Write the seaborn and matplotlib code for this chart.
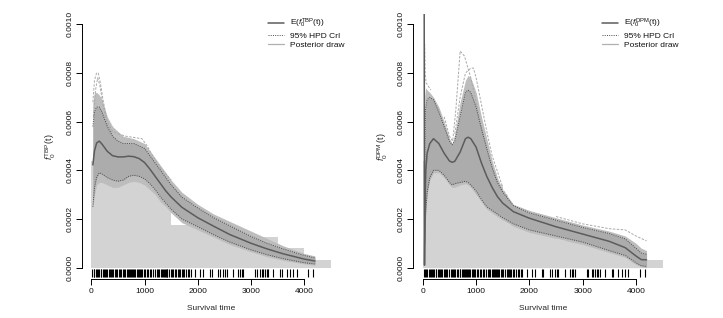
'''Baseline density estimates: TBP vs DPM'''

import matplotlib
matplotlib.use("Agg")
import matplotlib.pyplot as plt
import seaborn as sns
from matplotlib.lines import Line2D

# histogram of survival times (same data in both panels)
hist_edges = [0, 500, 1000, 1500, 2000, 2500, 3000, 3500, 4000, 4500]
hist_heights = [0.00044, 0.00036, 0.00034, 0.000175, 0.00016, 0.00011, 0.000125, 0.00008, 0.00003]

# observed survival times (rug)
rug_times = [20, 45, 60, 85, 110, 130, 150, 175, 190, 215, 240, 255, 280, 300, 330,
             350, 365, 390, 410, 440, 460, 485, 520, 545, 560, 590, 610, 640, 665,
             690, 705, 730, 750, 770, 790, 810, 830, 850, 875, 890, 915, 940, 960,
             985, 1010, 1040, 1065, 1100, 1130, 1150, 1190, 1230, 1250, 1270, 1300,
             1320, 1340, 1360, 1380, 1400, 1415, 1430, 1460, 1490, 1510, 1540, 1580,
             1600, 1620, 1640, 1660, 1700, 1720, 1745, 1780, 1810, 1840, 1870, 1950,
             2044, 2106, 2231, 2263, 2388, 2419, 2481, 2513, 2544, 2669, 2763, 2794,
             2825, 2856, 3075, 3106, 3169, 3200, 3231, 3263, 3294, 3325, 3419, 3544,
             3575, 3669, 3731, 3794, 3856, 4075, 4169]

# ---- TBP panel ----
t_tbp = [30, 60, 100, 150, 200, 300, 400, 500, 600, 700, 800, 900, 1000, 1100, 1200,
         1300, 1400, 1500, 1700, 2000, 2300, 2600, 3000, 3300, 3600, 4000, 4200]
mean_tbp = [0.000422, 0.00048, 0.000512, 0.00052, 0.000508, 0.000478, 0.00046, 0.000455,
            0.000455, 0.000458, 0.000456, 0.000448, 0.000432, 0.000405, 0.000375, 0.000345,
            0.000315, 0.00029, 0.000248, 0.000205, 0.00017, 0.000136, 0.0001, 0.000077,
            0.000057, 0.000035, 0.000027]
hpd_hi_tbp = [0.00058, 0.00064, 0.00066, 0.00066, 0.00064, 0.00058, 0.00054, 0.00052,
              0.00051, 0.00051, 0.00051, 0.0005, 0.00049, 0.00046, 0.00043, 0.0004, 0.00037,
              0.00034, 0.00029, 0.000245, 0.000205, 0.000172, 0.000128, 0.0001, 0.000077,
              0.00005, 0.00004]
hpd_lo_tbp = [0.00025, 0.00033, 0.00037, 0.00039, 0.000385, 0.00037, 0.00036, 0.000355,
              0.00036, 0.000375, 0.00038, 0.000375, 0.000365, 0.000345, 0.00032, 0.00029,
              0.000265, 0.00024, 0.0002, 0.000168, 0.000135, 0.000105, 0.000073, 0.000053,
              0.000037, 0.00002, 0.000015]
draws_hi_tbp = [0.00068, 0.00072, 0.00072, 0.00071, 0.00069, 0.00062, 0.00058, 0.00056,
                0.00054, 0.000535, 0.00053, 0.00052, 0.00051, 0.00048, 0.00045, 0.00042,
                0.00039, 0.00036, 0.00031, 0.00026, 0.00022, 0.00019, 0.00015, 0.00012,
                0.00009, 0.000058, 0.000048]
draws_lo_tbp = [0.00025, 0.0003, 0.00034, 0.00035, 0.00035, 0.00034, 0.00033, 0.00033,
                0.00034, 0.00035, 0.000355, 0.00035, 0.00034, 0.00032, 0.0003, 0.00027,
                0.00025, 0.000225, 0.000185, 0.000155, 0.000125, 0.000095, 0.000065,
                0.000045, 0.00003, 0.000015, 0.00001]
# a few stray posterior draws
odd_tbp = [
    ([30, 60, 100, 130, 170, 220, 300, 400, 500],
     [0.00068, 0.00077, 0.0008, 0.0008, 0.00076, 0.00069, 0.0006, 0.00056, 0.00055]),
    ([40, 80, 120, 160, 220, 300, 400],
     [0.00062, 0.00073, 0.00078, 0.00075, 0.00067, 0.00059, 0.00055]),
    ([500, 650, 800, 950, 1050, 1150, 1300, 1500],
     [0.00055, 0.00054, 0.000535, 0.00053, 0.0005, 0.00046, 0.00041, 0.00036]),
]

# ---- DPM panel ----
t_dpm = [25, 31, 40, 55, 80, 130, 200, 300, 400, 500, 550, 600, 700, 800, 850, 900,
         1000, 1100, 1200, 1300, 1400, 1500, 1700, 2000, 2500, 3000, 3500, 3800, 4000,
         4100, 4200]
mean_dpm = [0.0011, 0.00001, 0.00026, 0.0004, 0.00047, 0.00051, 0.00053, 0.00051, 0.00047,
            0.000438, 0.000433, 0.000437, 0.000475, 0.00053, 0.000536, 0.00053, 0.000495,
            0.00043, 0.000375, 0.00033, 0.000292, 0.000265, 0.00023, 0.000203, 0.000168,
            0.000138, 0.000108, 0.000082, 0.000048, 0.000033, 0.000032]
t_band_dpm = [35, 50, 80, 130, 200, 300, 400, 500, 550, 600, 700, 800, 850, 900, 1000,
              1100, 1200, 1300, 1400, 1500, 1700, 2000, 2500, 3000, 3500, 3800, 4000,
              4100, 4200]
hpd_hi_dpm = [0.0004, 0.00065, 0.00069, 0.0007, 0.00069, 0.00064, 0.00058, 0.00052,
              0.000505, 0.00052, 0.00062, 0.00072, 0.00073, 0.00072, 0.00066, 0.00057,
              0.00049, 0.00041, 0.00035, 0.00031, 0.000255, 0.000225, 0.000195, 0.000165,
              0.00014, 0.000118, 0.00008, 0.00006, 0.000055]
hpd_lo_dpm = [0.0001, 0.00022, 0.00031, 0.00037, 0.0004, 0.0004, 0.00038, 0.00035,
              0.00034, 0.000345, 0.00035, 0.000355, 0.00035, 0.00034, 0.000315, 0.00028,
              0.00025, 0.000235, 0.00022, 0.000205, 0.00018, 0.000155, 0.00013, 0.000105,
              0.00007, 0.00005, 0.00002, 0.000008, 0.000005]
draws_hi_dpm = [0.0007, 0.00074, 0.00073, 0.00072, 0.0007, 0.00066, 0.0006, 0.00053,
                0.00051, 0.00055, 0.00068, 0.00077, 0.00079, 0.00078, 0.00072, 0.00062,
                0.00053, 0.00044, 0.00037, 0.00032, 0.00026, 0.000235, 0.000205, 0.000175,
                0.00015, 0.00013, 0.0001, 0.00008, 0.00007]
draws_lo_dpm = [0.00005, 0.0002, 0.0003, 0.00036, 0.00039, 0.00039, 0.00037, 0.00034,
                0.00033, 0.00033, 0.00034, 0.000345, 0.00034, 0.00033, 0.0003, 0.00027,
                0.00024, 0.000225, 0.00021, 0.000195, 0.00017, 0.000145, 0.00012, 0.000095,
                0.000062, 0.000042, 0.000012, 0.000003, 0.0]
odd_dpm = [
    ([400, 500, 560, 620, 700, 780, 900, 1000, 1100, 1200, 1400, 1600],
     [0.00062, 0.00054, 0.00052, 0.00065, 0.00089, 0.00087, 0.00078, 0.00068, 0.00058,
      0.00048, 0.00035, 0.00029]),
    ([600, 700, 800, 900, 950, 1000, 1100, 1200, 1300, 1500],
     [0.00055, 0.0007, 0.0008, 0.00082, 0.00082, 0.00078, 0.00067, 0.00056, 0.00046, 0.00033]),
    ([2500, 3000, 3500, 3800, 4000, 4200],
     [0.00021, 0.00018, 0.00016, 0.000155, 0.00013, 0.00011]),
    ([35, 45, 60, 90, 150],
     [0.00092, 0.0008, 0.00076, 0.00075, 0.00073]),
]

sns.set_style("ticks")
plt.rcParams['font.family'] = ['Liberation Sans', 'DejaVu Sans']
plt.rcParams['mathtext.fontset'] = 'custom'
plt.rcParams['mathtext.rm'] = 'Liberation Sans'
plt.rcParams['mathtext.it'] = 'Liberation Sans:italic'
plt.rcParams['mathtext.bf'] = 'Liberation Sans:bold'
plt.rcParams['text.color'] = '#111111'

fig = plt.figure(figsize=(7.23, 3.18), dpi=100)
ax1 = fig.add_axes([0.113, 0.1217, 0.358, 0.834])
ax2 = fig.add_axes([0.5716, 0.1217, 0.358, 0.834])

panels = [
    (ax1, 'TBP', t_tbp, mean_tbp, t_tbp, hpd_hi_tbp, hpd_lo_tbp, draws_hi_tbp, draws_lo_tbp, odd_tbp, 268, False),
    (ax2, 'DPM', t_dpm, mean_dpm, t_band_dpm, hpd_hi_dpm, hpd_lo_dpm, draws_hi_dpm, draws_lo_dpm, odd_dpm, 602, True),
]

mean_col = '#5c5c5c'
hpd_col = '#4a4a4a'
hist_col = '#d3d3d3'

for ax, name, t, mu, tb, hi, lo, dhi, dlo, odd, leg_x, low_draws in panels:
    centers = [(a + b) / 2 for a, b in zip(hist_edges[:-1], hist_edges[1:])]
    sns.histplot(x=centers, weights=hist_heights, bins=hist_edges, stat='count',
                 color=hist_col, alpha=1, linewidth=0, ax=ax)

    # posterior draws
    if low_draws:
        ax.fill_between(tb, 0, dlo, color=hist_col, linewidth=0, zorder=2)
    ax.fill_between(tb, dlo, dhi, color='#bdbdbd', linewidth=0, zorder=2)
    ax.fill_between(tb, lo, hi, color='#acacac', linewidth=0, zorder=2)
    for ot, oy in odd:
        sns.lineplot(x=ot, y=oy, ax=ax, color='#a9a9a9', linewidth=0.7,
                     linestyle=(0, (2.5, 1.5)), zorder=3)

    sns.lineplot(x=tb, y=hi, ax=ax, color=hpd_col, linewidth=0.7,
                 linestyle=(0, (1, 1.3)), zorder=4)
    sns.lineplot(x=tb, y=lo, ax=ax, color=hpd_col, linewidth=0.7,
                 linestyle=(0, (1, 1.3)), zorder=4)
    sns.lineplot(x=t, y=mu, ax=ax, color=mean_col, linewidth=1.1, zorder=5)

    ax.vlines(rug_times, -0.000040, -0.000006, color='black', linewidth=0.8, zorder=6)

    ax.set_xlim(-180, 4680)
    ax.set_ylim(-0.000048, 0.001042)
    ax.set_xticks([0, 1000, 2000, 3000, 4000])
    ax.set_yticks([0, 0.0002, 0.0004, 0.0006, 0.0008, 0.001])
    ax.set_yticklabels(['0.0000', '0.0002', '0.0004', '0.0006', '0.0008', '0.0010'],
                       rotation=90, va='center')
    ax.tick_params(axis='both', labelsize=6, length=4, width=0.7, color='black',
                   labelcolor='#111111', direction='out')
    ax.tick_params(axis='y', pad=2)
    ax.tick_params(axis='x', pad=2.5)
    sns.despine(ax=ax)
    ax.spines['left'].set_bounds(0, 0.001)
    ax.spines['bottom'].set_bounds(0, 4000)
    for s in ['left', 'bottom']:
        ax.spines[s].set_linewidth(0.7)
        ax.spines[s].set_color('black')
    ax.set_xlabel('Survival time', fontsize=6, labelpad=7)
    ax.set_ylabel(r'$f_0^{\mathrm{%s}}\,\mathrm{(t)}$' % name, fontsize=6.5, labelpad=6)
    ax.grid(False)

    handles = [Line2D([], [], color=mean_col, linewidth=1.1),
               Line2D([], [], color=hpd_col, linewidth=0.7, linestyle=(0, (1, 1.3))),
               Line2D([], [], color='#b0b0b0', linewidth=0.9)]
    labels = [r'E($f_0^{\mathrm{%s}}$(t))' % name, '95% HPD CrI', 'Posterior draw']
    ax.legend(handles, labels, loc='upper left', frameon=False, fontsize=6,
              bbox_to_anchor=(leg_x / 723, 1 - 17 / 318), bbox_transform=fig.transFigure,
              borderpad=0, borderaxespad=0, handlelength=1.9, handletextpad=0.8,
              labelspacing=0.2)

fig.savefig('out.png', dpi=100)
